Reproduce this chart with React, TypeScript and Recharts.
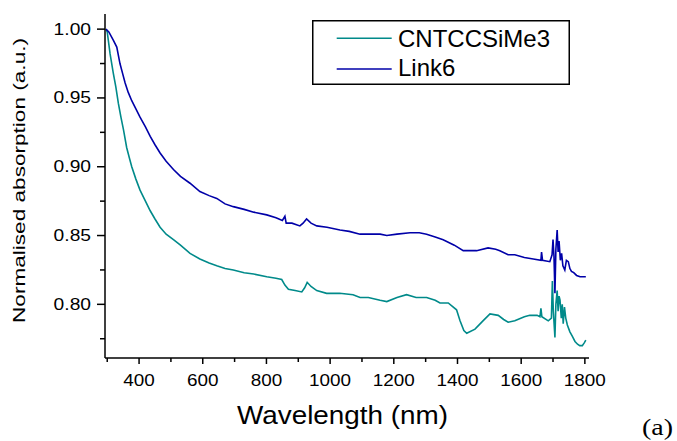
import { LineChart, Line, XAxis, YAxis } from 'recharts';

const tealWavelength = [
  296, 300, 309, 319, 327, 335, 343, 351, 361, 370, 377, 390, 403, 420, 435, 450, 466, 485, 508, 530,
  560, 591, 620, 644, 670, 696, 730, 760, 801, 830, 848, 858, 869, 890, 911, 920, 928, 940, 958, 989,
  1030, 1072, 1094, 1120, 1157, 1178, 1210, 1240, 1270, 1303, 1330, 1345, 1371, 1397, 1408, 1420, 1429,
  1455, 1480, 1502, 1528, 1545, 1559, 1580, 1610, 1627, 1650, 1659, 1662, 1665, 1685, 1695, 1698, 1701,
  1706, 1709, 1713, 1716, 1719, 1722, 1726, 1729, 1732, 1736, 1740, 1745, 1753, 1760, 1769, 1777, 1784,
  1792, 1798, 1803,
];
const tealAbsorption = [
  1.0, 0.998, 0.982, 0.968, 0.958, 0.946, 0.936, 0.927, 0.914, 0.906, 0.9, 0.891, 0.883, 0.875, 0.868,
  0.862, 0.856, 0.851, 0.847, 0.843, 0.837, 0.833, 0.83, 0.828, 0.826, 0.825, 0.823, 0.822, 0.82, 0.819,
  0.818, 0.814, 0.811, 0.81, 0.809, 0.812, 0.816, 0.813, 0.81, 0.808, 0.808, 0.807, 0.805, 0.805, 0.803,
  0.802, 0.805, 0.807, 0.805, 0.805, 0.803, 0.801, 0.801, 0.796, 0.788, 0.781, 0.779, 0.782, 0.788, 0.793,
  0.792, 0.789, 0.787, 0.788, 0.791, 0.792, 0.792, 0.791, 0.797, 0.791, 0.788, 0.79, 0.817, 0.795, 0.776,
  0.8, 0.81, 0.795, 0.806, 0.803, 0.79, 0.8, 0.786, 0.798, 0.79, 0.785, 0.78, 0.777, 0.773, 0.771, 0.77,
  0.77, 0.772, 0.774,
];

const linkWavelength = [
  296, 305, 319, 330, 340, 348, 356, 366, 377, 390, 403, 420, 435, 450, 466, 485, 508, 530, 560, 591,
  620, 644, 670, 696, 730, 760, 801, 830, 850, 858, 862, 880, 905, 915, 926, 940, 958, 990, 1031, 1060,
  1094, 1130, 1157, 1178, 1210, 1251, 1280, 1303, 1330, 1355, 1390, 1418, 1440, 1460, 1496, 1520, 1533,
  1559, 1580, 1610, 1638, 1662, 1664, 1667, 1690, 1697, 1700, 1703, 1706, 1709, 1713, 1716, 1719, 1723,
  1727, 1731, 1737, 1742, 1748, 1753, 1758, 1765, 1774, 1785, 1795, 1803,
];
const linkAbsorption = [
  1.0, 0.998, 0.992, 0.987, 0.975, 0.968, 0.961, 0.954, 0.948, 0.942, 0.936, 0.929, 0.922, 0.916, 0.91,
  0.904, 0.898, 0.893, 0.888, 0.882, 0.879, 0.877, 0.873, 0.871, 0.869, 0.867, 0.865, 0.863, 0.861, 0.864,
  0.859, 0.859, 0.857, 0.859, 0.862, 0.859, 0.857, 0.856, 0.854, 0.853, 0.851, 0.851, 0.851, 0.85, 0.851,
  0.852, 0.852, 0.851, 0.849, 0.847, 0.843, 0.839, 0.839, 0.839, 0.841, 0.84, 0.839, 0.836, 0.836, 0.834,
  0.833, 0.832, 0.838, 0.832, 0.831, 0.836, 0.847, 0.835, 0.808, 0.84, 0.854, 0.838, 0.846, 0.832, 0.837,
  0.828, 0.825, 0.832, 0.831, 0.826, 0.824, 0.823, 0.821, 0.82, 0.82, 0.82,
];

const xMajorTicks = [400, 600, 800, 1000, 1200, 1400, 1600, 1800];
const xAllTicks = [300, 400, 500, 600, 700, 800, 900, 1000, 1100, 1200, 1300, 1400, 1500, 1600, 1700, 1800];
const yMajorTicks = ['0.80', '0.85', '0.90', '0.95', '1.00'];
const yAllTicks = [0.775, 0.8, 0.825, 0.85, 0.875, 0.9, 0.925, 0.95, 0.975, 1.0];

const seriesNames = ['CNTCCSiMe3', 'Link6'];
const TEAL = '#008a8a';
const BLUE = '#0000a8';
const FONT = '"Liberation Sans", Arial, sans-serif';

const tealData = tealWavelength.map((wl, i) => ({ wl, v: tealAbsorption[i] }));
const linkData = linkWavelength.map((wl, i) => ({ wl, v: linkAbsorption[i] }));

// rough Arial advance widths, used to stretch labels like the original
const charW = (s: string) => s.split('').reduce((a, c) => a + (c === '.' ? 0.278 : 0.556), 0);

function XTick(props: any) {
  const { x, y, payload } = props;
  const major = xMajorTicks.includes(payload.value);
  const label = String(payload.value);
  return (
    <g>
      <line x1={x} x2={x} y1={y} y2={y + (major ? 6 : 4)} stroke="#000" strokeWidth={1.5} />
      {major && (
        <text x={x} y={y + 28} textAnchor="middle" fontSize={16} fontFamily={FONT} fill="#000"
          textLength={charW(label) * 16 * 1.18} lengthAdjust="spacingAndGlyphs">
          {label}
        </text>
      )}
    </g>
  );
}

function YTick(props: any) {
  const { x, y, payload } = props;
  const label = Number(payload.value).toFixed(2);
  const major = yMajorTicks.includes(label) && Math.round(payload.value * 1000) % 50 === 0;
  return (
    <g>
      <line x1={x - (major ? 8 : 5)} x2={x} y1={y} y2={y} stroke="#000" strokeWidth={1.5} />
      {major && (
        <text x={x - 14} y={y + 5.5} textAnchor="end" fontSize={16} fontFamily={FONT} fill="#000"
          textLength={charW(label) * 16 * 1.2} lengthAdjust="spacingAndGlyphs">
          {label}
        </text>
      )}
    </g>
  );
}

function LegendBox() {
  return (
    <svg width={258} height={66} style={{ position: 'absolute', left: 312, top: 20 }}>
      <rect x={0.75} y={0.75} width={256.5} height={63.5} fill="#fff" stroke="#000" strokeWidth={1.5} />
      <line x1={24.7} x2={79.7} y1={18.3} y2={18.3} stroke={TEAL} strokeWidth={1.5} />
      <text x={86} y={26.7} fontSize={24} fontFamily={FONT} fill="#000">{seriesNames[0]}</text>
      <line x1={24.7} x2={79.7} y1={49} y2={49} stroke={BLUE} strokeWidth={1.5} />
      <text x={86} y={56} fontSize={24} fontFamily={FONT} fill="#000">{seriesNames[1]}</text>
    </svg>
  );
}

export default function App() {
  return (
    <div style={{ position: 'absolute', left: 0, top: 0, width: 677, height: 441, background: '#fff' }}>
      <LineChart width={677} height={441} margin={{ top: 14, right: 88, left: 0, bottom: 0 }}>
        <XAxis
          type="number"
          dataKey="wl"
          domain={[293, 1813]}
          ticks={xAllTicks}
          interval={0}
          allowDataOverflow
          height={83}
          tickSize={0}
          tickMargin={0}
          tickLine={false}
          axisLine={{ stroke: '#000', strokeWidth: 1.5 }}
          tick={<XTick />}
          label={{
            content: () => (
              <g>
                <text x={237} y={424} fontSize={25} fontFamily={FONT} fill="#000"
                  textLength={211} lengthAdjust="spacingAndGlyphs">
                  Wavelength (nm)
                </text>
                <text x={642} y={435} fontSize={24} fontFamily='"Liberation Serif", "Times New Roman", serif' fill="#000"
                  textLength={31} lengthAdjust="spacingAndGlyphs">
                  (a)
                </text>
              </g>
            ),
          }}
        />
        <YAxis
          type="number"
          dataKey="v"
          domain={[0.761, 1.011]}
          ticks={yAllTicks}
          interval={0}
          allowDataOverflow
          width={105}
          tickSize={0}
          tickMargin={0}
          tickLine={false}
          axisLine={{ stroke: '#000', strokeWidth: 1.5 }}
          tick={<YTick />}
          label={{
            content: () => (
              <text x={25} y={323} transform="rotate(-90 25 323)" fontSize={17} fontFamily={FONT} fill="#000"
                textLength={285} lengthAdjust="spacingAndGlyphs">
                Normalised absorption (a.u.)
              </text>
            ),
          }}
        />
        <Line data={tealData} dataKey="v" name={seriesNames[0]} type="linear" stroke={TEAL}
          strokeWidth={1.6} dot={false} isAnimationActive={false} />
        <Line data={linkData} dataKey="v" name={seriesNames[1]} type="linear" stroke={BLUE}
          strokeWidth={1.6} dot={false} isAnimationActive={false} />
      </LineChart>
      <LegendBox />
    </div>
  );
}
